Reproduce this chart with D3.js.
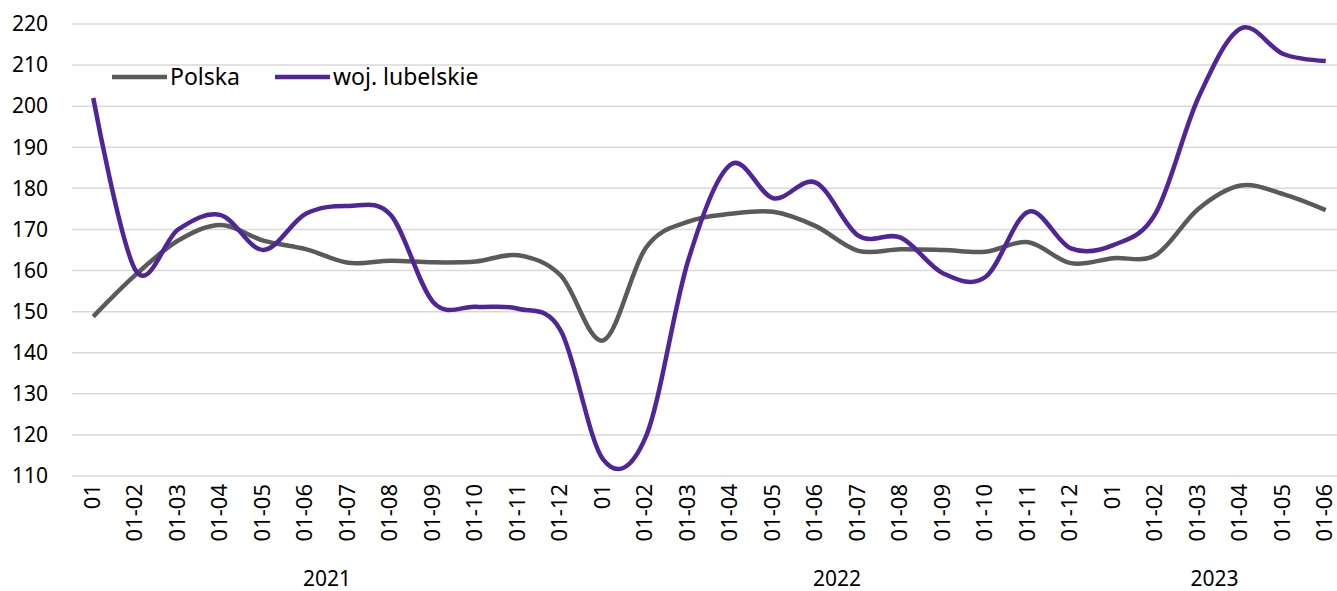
<!DOCTYPE html>
<html>
<head>
<meta charset="utf-8">
<script src="https://cdn.jsdelivr.net/npm/d3@7"></script>
<style>
  html, body { margin: 0; padding: 0; background: #fff; overflow: hidden; }
  svg { display: block; font-family: "Noto Sans", sans-serif; }
</style>
</head>
<body>
<svg id="chart" width="1337" height="591"></svg>
<script>
// month labels, one per point
const labels = [
  "01", "01-02", "01-03", "01-04", "01-05", "01-06", "01-07", "01-08", "01-09", "01-10", "01-11", "01-12",
  "01", "01-02", "01-03", "01-04", "01-05", "01-06", "01-07", "01-08", "01-09", "01-10", "01-11", "01-12",
  "01", "01-02", "01-03", "01-04", "01-05", "01-06"
];
const years = ["2021", "2022", "2023"];
const yearCounts = [12, 12, 6];

const polska = [
  148.8, 159.0, 167.3, 171.1, 167.3, 165.2, 161.9, 162.4, 162.0, 162.2, 163.7, 158.8,
  143.0, 165.5, 171.9, 173.8, 174.3, 170.8, 164.8, 165.2, 165.0, 164.6, 166.9, 161.8,
  163.0, 163.8, 175.0, 180.7, 178.6, 174.7
];
const lubelskie = [
  202.0, 160.0, 170.0, 173.5, 165.0, 173.8, 175.7, 173.5, 152.3, 151.2, 150.7, 145.4,
  114.0, 119.5, 162.5, 185.8, 177.6, 181.4, 168.5, 168.0, 159.3, 158.5, 174.3, 165.4,
  166.2, 174.0, 202.0, 218.9, 212.7, 211.0
];
const yTicks = [110, 120, 130, 140, 150, 160, 170, 180, 190, 200, 210, 220];

const seriesNames = ["Polska", "woj. lubelskie"];
const seriesColors = ["#5a5a5a", "#50259a"];

const width = 1337, height = 591;
const plotLeft = 72, plotRight = 1347;   // plot area runs past the right edge (cropped)
const plotTop = 24, plotBottom = 476;

const svg = d3.select("#chart");

const idx = d3.range(labels.length);
const x = d3.scalePoint().domain(idx).range([plotLeft, plotRight]).padding(0.5);
const step = x.step();

const y = d3.scaleLinear().domain([110, 220]).range([plotBottom, plotTop]);

// gridlines
svg.append("g")
  .selectAll("line")
  .data(yTicks)
  .join("line")
  .attr("x1", plotLeft)
  .attr("x2", width)
  .attr("y1", d => y(d))
  .attr("y2", d => y(d))
  .attr("stroke", "#d9d9d9")
  .attr("stroke-width", 1.5);

// y axis labels
const yAxis = d3.axisLeft(y).tickValues(yTicks).tickSize(0).tickPadding(0);
svg.append("g")
  .attr("transform", "translate(48,0)")
  .call(yAxis)
  .call(g => g.select(".domain").remove())
  .call(g => g.selectAll("text")
    .attr("fill", "#000")
    .style("font-size", "21px")
    .style("font-family", "'Noto Sans', sans-serif"));

// x labels, rotated
svg.append("g")
  .selectAll("text")
  .data(idx)
  .join("text")
  .attr("transform", d => `translate(${x(d) - 1},484) rotate(-90)`)
  .attr("dy", "0.34em")
  .attr("text-anchor", "end")
  .style("font-size", "22px")
  .attr("fill", "#000")
  .text(d => labels[d]);

// year labels centred under their group (visible part)
let start = 0;
const yearPos = years.map((yr, k) => {
  const x0 = x(start) - step / 2;
  const x1 = Math.min(x(start + yearCounts[k] - 1) + step / 2, width);
  start += yearCounts[k];
  return { yr, cx: (x0 + x1) / 2 };
});
svg.append("g")
  .selectAll("text")
  .data(yearPos)
  .join("text")
  .attr("x", d => d.cx)
  .attr("y", 586)
  .attr("text-anchor", "middle")
  .style("font-size", "21px")
  .attr("fill", "#000")
  .text(d => d.yr);

// lines (Excel-like smoothing)
const line = d3.line()
  .x((d, i) => x(i))
  .y(d => y(d))
  .curve(d3.curveCatmullRom.alpha(0));

const allSeries = [polska, lubelskie];
svg.append("g")
  .selectAll("path")
  .data(allSeries)
  .join("path")
  .attr("d", d => line(d))
  .attr("fill", "none")
  .attr("stroke", (d, i) => seriesColors[i])
  .attr("stroke-width", 4.5)
  .attr("stroke-linejoin", "round");

// legend
const legendItems = [
  { name: seriesNames[0], color: seriesColors[0], x: 112 },
  { name: seriesNames[1], color: seriesColors[1], x: 275 }
];
const lg = svg.append("g").selectAll("g")
  .data(legendItems)
  .join("g")
  .attr("transform", d => `translate(${d.x},77)`);
lg.append("line")
  .attr("x1", 0).attr("x2", 55)
  .attr("stroke", d => d.color)
  .attr("stroke-width", 4.5);
lg.append("text")
  .attr("x", 58)
  .attr("dy", "0.35em")
  .style("font-size", "23px")
  .attr("fill", "#000")
  .text(d => d.name);
</script>
</body>
</html>
